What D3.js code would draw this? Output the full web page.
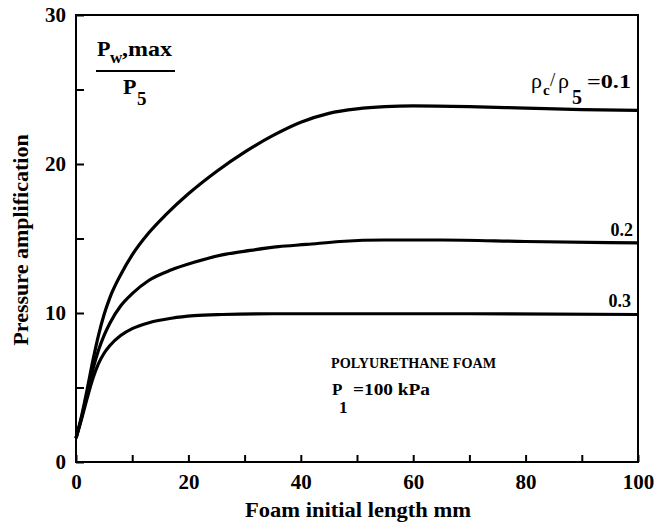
<!DOCTYPE html>
<html><head><meta charset="utf-8">
<script src="https://cdn.jsdelivr.net/npm/d3@7/dist/d3.min.js"></script>
<style>body{margin:0;background:#fff}svg{display:block}</style>
</head><body><svg id="c" width="655" height="524"></svg>
<script>
const xTicks = [0, 20, 40, 60, 80, 100];
const yTicks = [0, 10, 20, 30];
const xMinor = [10, 30, 50, 70, 90];
const yMinor = [5, 15, 25];
const seriesNames = ["0.1", "0.2", "0.3"];
const x01 = [0, 1, 2, 3, 4, 5, 6, 8, 10, 13, 16, 20, 25, 30, 35, 40, 45, 50, 55, 60, 70, 80, 90, 100];
const y01 = [1.6, 3.1, 4.9, 6.8, 8.5, 9.9, 11.0, 12.6, 13.9, 15.4, 16.6, 18.0, 19.5, 20.8, 21.9, 22.8, 23.4, 23.7, 23.85, 23.9, 23.85, 23.75, 23.65, 23.6];
const x02 = [0, 1, 2, 3, 4, 5, 6, 8, 10, 13, 17, 21, 26, 31, 36, 41, 47, 55, 65, 80, 100];
const y02 = [1.6, 3.0, 4.6, 6.2, 7.5, 8.5, 9.3, 10.5, 11.3, 12.2, 12.9, 13.4, 13.9, 14.2, 14.45, 14.6, 14.8, 14.9, 14.9, 14.8, 14.7];
const x03 = [0, 1, 2, 3, 4, 5, 6, 8, 10, 13, 17, 21, 26, 35, 50, 70, 100];
const y03 = [1.6, 2.9, 4.3, 5.6, 6.6, 7.3, 7.8, 8.5, 8.95, 9.35, 9.65, 9.82, 9.9, 9.95, 9.95, 9.95, 9.9];

const FONT = "'Liberation Serif', 'DejaVu Serif', serif";
const svg = d3.select("#c");
const L = 76, R = 638, T = 15, B = 462;
const x = d3.scaleLinear().domain([0, 100]).range([L, R]);
const y = d3.scaleLinear().domain([0, 30]).range([B, T]);

svg.append("rect").attr("x", L).attr("y", T).attr("width", R - L).attr("height", B - T)
  .attr("fill", "none").attr("stroke", "#000").attr("stroke-width", 2);

const xAx = svg.append("g").attr("transform", `translate(0,${B})`)
  .call(d3.axisBottom(x).tickValues(xTicks.concat(xMinor)).tickSize(-7).tickPadding(12)
    .tickFormat(d => xTicks.includes(d) ? d : ""));
const yAx = svg.append("g").attr("transform", `translate(${L},0)`)
  .call(d3.axisLeft(y).tickValues(yTicks.concat(yMinor)).tickSize(-8).tickPadding(10)
    .tickFormat(d => yTicks.includes(d) ? d : ""));
[xAx, yAx].forEach(g => {
  g.attr("font-family", FONT);
  g.select(".domain").remove();
  g.selectAll(".tick line").attr("stroke", "#000").attr("stroke-width", 2);
  g.selectAll(".tick text").attr("font-size", 21).attr("font-family", FONT).attr("font-weight", "bold").attr("fill", "#000");
});

const line = d3.line().x(d => x(d[0])).y(d => y(d[1])).curve(d3.curveMonotoneX);
[[x01, y01], [x02, y02], [x03, y03]].forEach(([xs, ys]) => {
  svg.append("path").datum(xs.map((v, i) => [v, ys[i]]))
    .attr("d", line).attr("fill", "none").attr("stroke", "#000").attr("stroke-width", 3.2)
    .attr("stroke-linejoin", "round");
});

function txt(xp, yp, size) {
  return svg.append("text").attr("x", xp).attr("y", yp).attr("font-size", size)
    .attr("font-family", FONT).attr("font-weight", "bold").attr("fill", "#000");
}

txt(358, 517, 21).attr("text-anchor", "middle").attr("textLength", 226).attr("lengthAdjust", "spacingAndGlyphs")
  .text("Foam initial length mm");
svg.append("text").attr("transform", "translate(28,240) rotate(-90)").attr("text-anchor", "middle")
  .attr("font-size", 22).attr("font-family", FONT).attr("font-weight", "bold").text("Pressure amplification");

// P_w,max / P_5
txt(97, 56, 22).text("P");
txt(110, 63, 17).text("w");
txt(122, 56, 22).attr("textLength", 50).attr("lengthAdjust", "spacingAndGlyphs").text(",max");
svg.append("line").attr("x1", 96).attr("x2", 175).attr("y1", 71).attr("y2", 71)
  .attr("stroke", "#000").attr("stroke-width", 1.8);
txt(123, 94, 22).text("P");
txt(137, 105, 19).text("5");

// rho_c / rho_5 = 0.1
txt(531, 88, 22).attr("font-weight", "normal").text("ρ");
txt(543, 95, 15).text("c");
txt(550, 86, 19).attr("font-weight", "normal").text("/");
txt(558, 88, 22).attr("font-weight", "normal").text("ρ");
txt(572, 104, 20).text("5");
txt(587, 88, 19).attr("textLength", 44).attr("lengthAdjust", "spacingAndGlyphs").text("=" + seriesNames[0]);
txt(633, 236, 18).attr("text-anchor", "end").text(seriesNames[1]);
txt(631, 307, 18).attr("text-anchor", "end").text(seriesNames[2]);

txt(331, 368, 15).attr("textLength", 165).attr("lengthAdjust", "spacingAndGlyphs").text("POLYURETHANE FOAM");
txt(332, 395, 17).text("P");
txt(339, 413, 17).text("1");
txt(353, 395, 17).attr("textLength", 77).attr("lengthAdjust", "spacingAndGlyphs").text("=100 kPa");
</script></body></html>
